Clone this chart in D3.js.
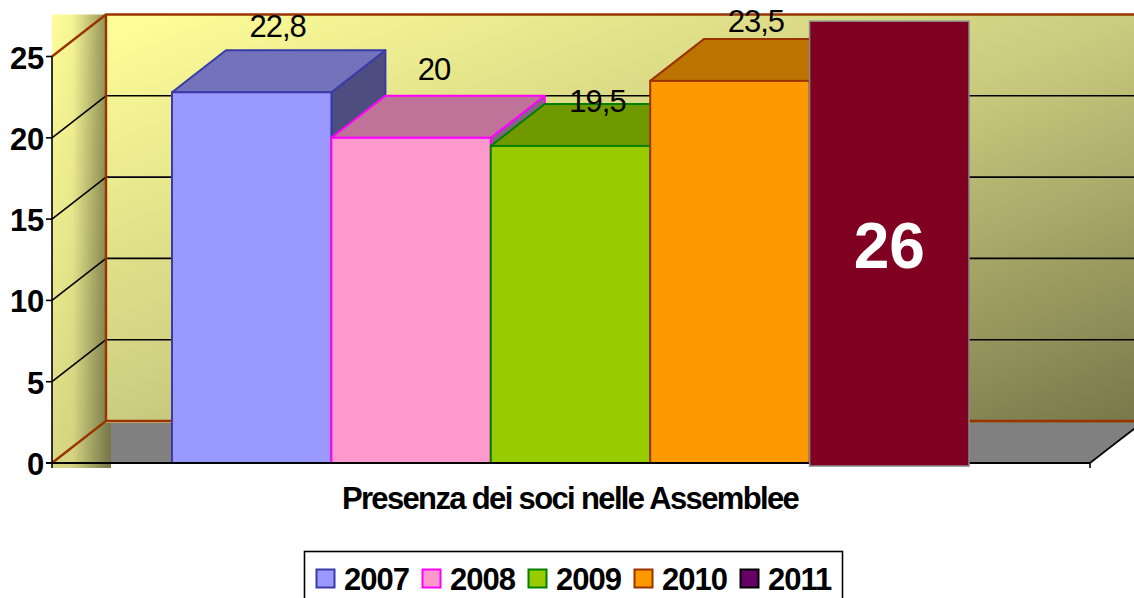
<!DOCTYPE html>
<html>
<head>
<meta charset="utf-8">
<script src="https://cdn.jsdelivr.net/npm/d3@7"></script>
<style>
  html, body { margin: 0; padding: 0; background: #fff; }
  svg { display: block; font-family: "Liberation Sans", Arial, sans-serif; }
</style>
</head>
<body>
<div id="chart"></div>
<script>
(function () {
  'use strict';

  var years = ["2007", "2008", "2009", "2010", "2011"];
  var values = [22.8, 20, 19.5, 23.5, 26];
  var valueLabels = ["22,8", "20", "19,5", "23,5", "26"];
  var yTicks = [0, 5, 10, 15, 20, 25];
  var xTitle = "Presenza dei soci nelle Assemblee";

  var fills = ["#9999ff", "#ff99cc", "#99cc00", "#ff9900", "#800022"];
  var tops = ["#7373bb", "#bf7399", "#709900", "#bd7300"];
  var sides = ["#4d4d80", "#80667f", "#4d6600", "#804d00"];
  var strokes = ["#3b3ba8", "#ff00ff", "#008000", "#993300", "#888888"];
  var legendFills = ["#9999ff", "#ff99cc", "#99cc00", "#ff9900", "#660066"];
  var legendStrokes = ["#3b3ba8", "#ff00ff", "#008000", "#993300", "#000000"];

  // label nudges, the labels do not sit evenly above the bars
  var labelDx = [0, -3, 1, 0];
  var labelDy = [-13, -16, 8, -7];

  var width = 1134, height = 598;
  var depthX = 54, depthY = 42;

  var svg = d3.select("#chart").append("svg")
      .attr("width", width)
      .attr("height", height);

  var y = d3.scaleLinear().domain([0, 25]).range([463, 56.5]);
  var x = d3.scaleBand().domain(years).range([172, 969]);

  var axisLeft = 52, axisRight = 1090, wallRight = 1136;
  var wallLeft = axisLeft + depthX;
  var wallTop = y(25) - depthY, wallBottom = y(0) - depthY;
  var innerTicks = yTicks.filter(function (d) { return d > 0 && d < 25; });

  var defs = svg.append("defs");

  var wallGrad = defs.append("linearGradient").attr("id", "wallGrad")
      .attr("x1", 0).attr("y1", 0).attr("x2", 1).attr("y2", 1);
  wallGrad.append("stop").attr("offset", 0).attr("stop-color", "#ffff99");
  wallGrad.append("stop").attr("offset", 0.5).attr("stop-color", "#cccc80");
  wallGrad.append("stop").attr("offset", 1).attr("stop-color", "#77774a");

  var sideGrad = defs.append("linearGradient").attr("id", "sideGrad")
      .attr("x1", 0).attr("y1", 0).attr("x2", 0).attr("y2", 1);
  sideGrad.append("stop").attr("offset", 0).attr("stop-color", "#fdfd99");
  sideGrad.append("stop").attr("offset", 1).attr("stop-color", "#d8d884");

  var shadeGrad = defs.append("linearGradient").attr("id", "shadeGrad")
      .attr("x1", 0).attr("y1", 0).attr("x2", 1).attr("y2", 0);
  shadeGrad.append("stop").attr("offset", 0).attr("stop-color", "#000").attr("stop-opacity", 0);
  shadeGrad.append("stop").attr("offset", 0.35).attr("stop-color", "#000").attr("stop-opacity", 0.03);
  shadeGrad.append("stop").attr("offset", 0.92).attr("stop-color", "#000").attr("stop-opacity", 0.42);
  shadeGrad.append("stop").attr("offset", 1).attr("stop-color", "#000").attr("stop-opacity", 0.45);

  // left wall
  svg.append("rect")
      .attr("x", axisLeft).attr("y", wallTop)
      .attr("width", 59).attr("height", 453.5)
      .attr("fill", "url(#sideGrad)");
  svg.append("rect")
      .attr("x", axisLeft).attr("y", wallTop)
      .attr("width", 59).attr("height", 453.5)
      .attr("fill", "url(#shadeGrad)");

  // back wall
  svg.append("rect")
      .attr("x", wallLeft).attr("y", wallTop)
      .attr("width", wallRight - wallLeft).attr("height", wallBottom - wallTop + 2)
      .attr("fill", "url(#wallGrad)");

  // floor
  svg.append("polygon")
      .attr("points", [[axisLeft + 59, wallBottom + 2], [axisRight + 54, wallBottom + 2], [axisRight, y(0)], [axisLeft + 59, y(0)]].join(" "))
      .attr("fill", "#808080");

  // grid, back wall then left wall
  svg.selectAll(".gridBack")
      .data(innerTicks)
      .enter().append("line")
      .attr("class", "gridBack")
      .attr("x1", wallLeft).attr("x2", wallRight)
      .attr("y1", function (d) { return y(d) - depthY; })
      .attr("y2", function (d) { return y(d) - depthY; })
      .attr("stroke", "#000").attr("stroke-width", 1.6);

  svg.selectAll(".gridSide")
      .data(innerTicks)
      .enter().append("line")
      .attr("class", "gridSide")
      .attr("x1", axisLeft).attr("x2", wallLeft)
      .attr("y1", function (d) { return y(d); })
      .attr("y2", function (d) { return y(d) - depthY; })
      .attr("stroke", "#000").attr("stroke-width", 1.6);

  // wall border
  svg.append("path")
      .attr("d", "M" + axisLeft + "," + y(25) + "L" + wallLeft + "," + wallTop +
                 "L" + wallRight + "," + wallTop +
                 "M" + wallLeft + "," + wallTop + "L" + wallLeft + "," + wallBottom +
                 "L" + axisLeft + "," + y(0) +
                 "M" + wallLeft + "," + wallBottom + "L" + wallRight + "," + wallBottom)
      .attr("fill", "none").attr("stroke", "#993300").attr("stroke-width", 2.4);

  // axes
  svg.append("line")
      .attr("x1", axisLeft).attr("x2", axisLeft)
      .attr("y1", y(25)).attr("y2", y(0) + 5)
      .attr("stroke", "#000").attr("stroke-width", 1.6);
  svg.append("line")
      .attr("x1", axisRight).attr("x2", axisRight)
      .attr("y1", y(0)).attr("y2", y(0) + 5)
      .attr("stroke", "#000").attr("stroke-width", 1.6);
  svg.append("line")
      .attr("x1", axisRight).attr("x2", axisRight + 54)
      .attr("y1", y(0)).attr("y2", y(0) - depthY)
      .attr("stroke", "#000").attr("stroke-width", 1.6);

  svg.selectAll(".tick")
      .data(yTicks)
      .enter().append("line")
      .attr("class", "tick")
      .attr("x1", axisLeft - 6).attr("x2", axisLeft)
      .attr("y1", function (d) { return y(d); })
      .attr("y2", function (d) { return y(d); })
      .attr("stroke", "#000").attr("stroke-width", 1.6);

  svg.selectAll(".tickLabel")
      .data(yTicks)
      .enter().append("text")
      .attr("class", "tickLabel")
      .attr("x", 44)
      .attr("y", function (d) { return y(d) + 12; })
      .attr("text-anchor", "end")
      .attr("font-size", 31).attr("font-weight", "bold")
      .attr("letter-spacing", -0.3)
      .text(function (d) { return d; });

  // bars, drawn left to right so each one covers the side of the last
  var bars = years.slice(0, 4).map(function (d, i) { return { year: d, value: values[i], i: i }; });
  var bw = x.bandwidth();

  var bar = svg.selectAll(".bar").data(bars).enter().append("g").attr("class", "bar");

  bar.append("polygon")
      .attr("points", function (d) {
        var x1 = x(d.year) + bw, t = y(d.value), b = y(0);
        return [[x1, t], [x1 + depthX, t - depthY], [x1 + depthX, b - depthY], [x1, b]].join(" ");
      })
      .attr("fill", function (d) { return sides[d.i]; })
      .attr("stroke", function (d) { return strokes[d.i]; })
      .attr("stroke-width", 2).attr("stroke-linejoin", "round");

  bar.append("polygon")
      .attr("points", function (d) {
        var x0 = x(d.year), x1 = x0 + bw, t = y(d.value);
        return [[x0, t], [x0 + depthX, t - depthY], [x1 + depthX, t - depthY], [x1, t]].join(" ");
      })
      .attr("fill", function (d) { return tops[d.i]; })
      .attr("stroke", function (d) { return strokes[d.i]; })
      .attr("stroke-width", 2).attr("stroke-linejoin", "round");

  bar.append("rect")
      .attr("x", function (d) { return x(d.year); })
      .attr("y", function (d) { return y(d.value); })
      .attr("width", bw)
      .attr("height", function (d) { return y(0) - y(d.value); })
      .attr("fill", function (d) { return fills[d.i]; })
      .attr("stroke", function (d) { return strokes[d.i]; })
      .attr("stroke-width", 2);

  // baseline in front of the floor
  svg.append("line")
      .attr("x1", axisLeft - 6).attr("x2", axisRight)
      .attr("y1", y(0)).attr("y2", y(0))
      .attr("stroke", "#000").attr("stroke-width", 2);

  // the 2011 bar sits flat on top of the others
  svg.append("rect")
      .attr("x", x("2011"))
      .attr("y", y(values[4]) - 19)
      .attr("width", bw)
      .attr("height", y(0) - y(values[4]) + 22)
      .attr("fill", fills[4])
      .attr("stroke", strokes[4]).attr("stroke-width", 1.5);

  // value labels
  svg.selectAll(".valueLabel")
      .data(bars)
      .enter().append("text")
      .attr("class", "valueLabel")
      .attr("x", function (d) { return x(d.year) + bw / 2 + depthX / 2 - 1 + labelDx[d.i]; })
      .attr("y", function (d) { return y(d.value) - depthY + labelDy[d.i]; })
      .attr("text-anchor", "middle")
      .attr("font-size", 31)
      .attr("letter-spacing", -1)
      .text(function (d) { return valueLabels[d.i]; });

  svg.append("text")
      .attr("x", x("2011") + bw / 2)
      .attr("y", 268)
      .attr("text-anchor", "middle")
      .attr("fill", "#fff")
      .attr("font-size", 64).attr("font-weight", "bold")
      .text(valueLabels[4]);

  svg.append("text")
      .attr("x", 570).attr("y", 509)
      .attr("text-anchor", "middle")
      .attr("font-size", 31).attr("font-weight", "bold")
      .attr("letter-spacing", -1.65)
      .text(xTitle);

  // legend
  var legendX = d3.scaleBand().domain(years).range([315, 845]);
  svg.append("rect")
      .attr("x", 304.5).attr("y", 551.5)
      .attr("width", 538).attr("height", 50)
      .attr("fill", "#fff").attr("stroke", "#000").attr("stroke-width", 1.6);

  var legendItem = svg.selectAll(".legendItem")
      .data(years)
      .enter().append("g")
      .attr("class", "legendItem")
      .attr("transform", function (d) { return "translate(" + legendX(d) + ",0)"; });

  legendItem.append("rect")
      .attr("x", 1.5).attr("y", 569.5)
      .attr("width", 18).attr("height", 18)
      .attr("fill", function (d, i) { return legendFills[i]; })
      .attr("stroke", function (d, i) { return legendStrokes[i]; })
      .attr("stroke-width", 2);

  legendItem.append("text")
      .attr("x", 29).attr("y", 590)
      .attr("font-size", 31).attr("font-weight", "bold")
      .attr("letter-spacing", -1)
      .text(function (d) { return d; });
}());
</script>
</body>
</html>
